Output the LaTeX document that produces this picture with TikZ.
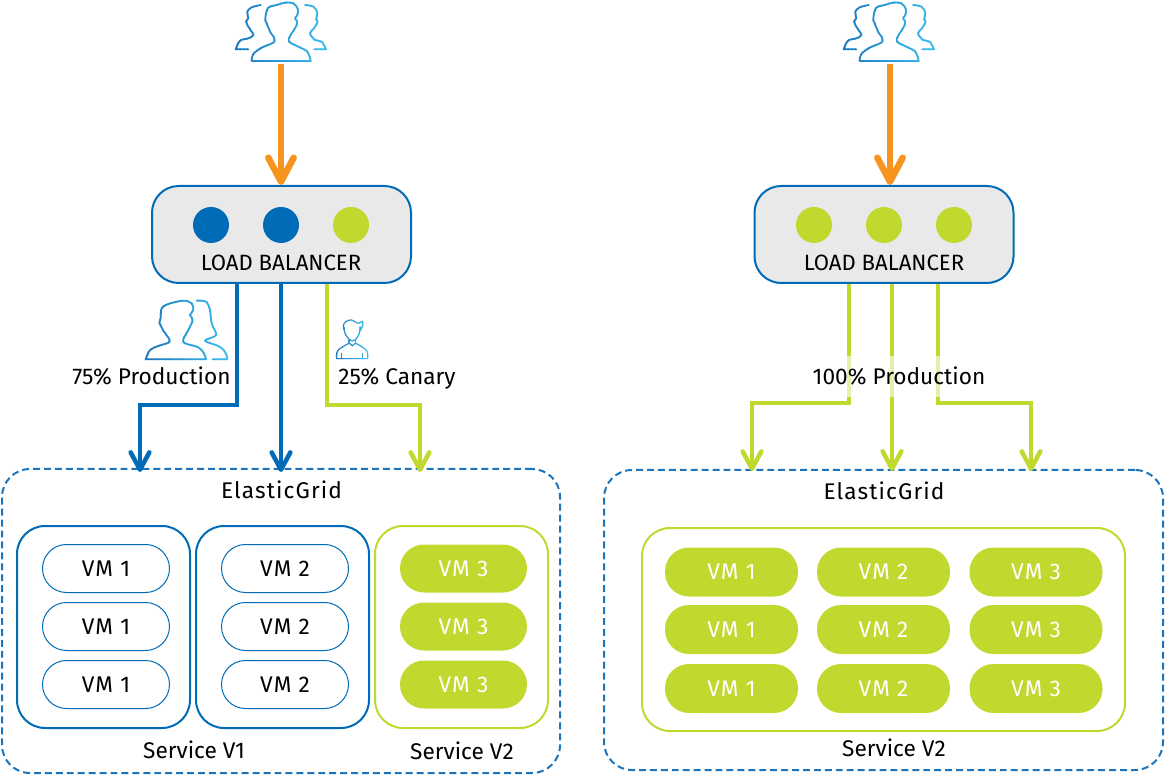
\documentclass[tikz,border=0pt]{standalone}
\usepackage{fontspec}
\setmainfont{Fira Sans}
\usetikzlibrary{arrows.meta}
\definecolor{cblue}{HTML}{006BB6}
\definecolor{cgreen}{HTML}{C1D82F}
\definecolor{corange}{HTML}{F7941E}
\definecolor{cdash}{HTML}{1C75BC}
\definecolor{cgrey}{HTML}{E9E9E9}
\definecolor{gradA}{HTML}{1B75BC}
\definecolor{gradB}{HTML}{3CC0F0}
\def\px{0.75pt}
\pgfdeclarearrow{
  name = Chev,
  setup code = {
    \pgfarrowssettipend{0.5\pgfarrowlinewidth}
    \pgfarrowssetlineend{-\pgfarrowlinewidth}
    \pgfarrowssetvisualbackend{-\pgfarrowlength}
    \pgfarrowssetbackend{-\pgfarrowlength}
    \pgfarrowshullpoint{0.5\pgfarrowlinewidth}{0pt}
    \pgfarrowshullpoint{-\pgfarrowlength}{\pgfarrowwidth}
    \pgfarrowshullpoint{-\pgfarrowlength}{-\pgfarrowwidth}
    \pgfarrowssavethe\pgfarrowlength
    \pgfarrowssavethe\pgfarrowwidth
    \pgfarrowssavethe\pgfarrowlinewidth
  },
  drawing code = {
    \pgfsetlinewidth{\pgfarrowlinewidth}
    \pgfsetdash{}{0pt}
    \pgfsetroundcap
    \pgfsetroundjoin
    \pgfpathmoveto{\pgfqpoint{-\pgfarrowlength}{0.5\pgfarrowwidth}}
    \pgfpathlineto{\pgfqpoint{0pt}{0pt}}
    \pgfpathlineto{\pgfqpoint{-\pgfarrowlength}{-0.5\pgfarrowwidth}}
    \pgfusepathqstroke
  },
  parameters = {\the\pgfarrowlength,\the\pgfarrowwidth,\the\pgfarrowlinewidth},
  defaults = {length=12pt,width=12pt}
}
\tikzset{
  lbl/.style={inner sep=0pt,font=\fontsize{17}{19}\selectfont,text=black,text height=11.4pt,text depth=0pt},
  lbcap/.style={lbl,font=\fontsize{16.6}{19}\selectfont},
  spaced/.style={lbl,font=\fontsize{17}{19}\selectfont\addfontfeatures{LetterSpace=5}},
  grid/.style={draw=cdash,line width=1.5pt,dash pattern=on 5.2pt off 3pt,rounded corners=21pt,inner sep=0pt},
  lbbox/.style={draw=cblue,fill=cgrey,line width=1.5pt,rounded corners=20pt,inner sep=0pt,minimum width=259*\px,minimum height=97*\px},
  svcblue/.style={draw=cblue,line width=1.5pt,rounded corners=21pt,inner sep=0pt,minimum width=173*\px,minimum height=202*\px},
  svcgreen/.style={draw=cgreen,line width=1.5pt,rounded corners=21pt,inner sep=0pt},
  vmo/.style={draw=cblue,line width=0.75pt,fill=white,rounded corners=18pt,inner sep=0pt,minimum width=127*\px,minimum height=48*\px,spaced},
  vmg/.style={fill=cgreen,rounded corners=18pt,inner sep=0pt,minimum width=127*\px,minimum height=48*\px,spaced,text=white},
  vmw/.style={fill=cgreen,rounded corners=18pt,inner sep=0pt,minimum width=133*\px,minimum height=49*\px,spaced,text=white},
  dotb/.style={circle,fill=cblue,minimum size=36*\px,inner sep=0pt},
  dotg/.style={circle,fill=cgreen,minimum size=36*\px,inner sep=0pt},
  slot/.style={inner sep=0pt,minimum width=90*\px,minimum height=60*\px},
  flowb/.style={draw=cblue,line width=3.4pt,-{Chev[length=13pt,width=14pt,line width=3.4pt]}},
  flowg/.style={draw=cgreen,line width=3.2pt,-{Chev[length=13pt,width=14pt,line width=3.4pt]}},
  flowo/.style={draw=corange,line width=4.9pt,-{Chev[length=18pt,width=19pt,line width=4.9pt]}},
  ico/.style={line width=1.35pt,line join=round,line cap=round},
  icothin/.style={line width=0.85pt,line join=round,line cap=round},
}
% strokes drawn through narrow vertical strips, each in its own colour
\newcommand\gradstroke[5]{%
  \foreach \i in {0,...,29}{%
    \pgfmathsetmacro\pp{100*\i/29}%
    \pgfmathsetmacro\xa{#1+(#2-#1)*\i/30}%
    \pgfmathsetmacro\xb{#1+(#2-#1)*(\i+1.3)/30}%
    \begin{scope}[color=gradB!\pp!gradA]
      \clip (\xa,#3) rectangle (\xb,#4);
      #5
    \end{scope}
  }%
}
\newcommand\crowd{%
  \draw[ico] plot[smooth,tension=.55] coordinates {(95,183) (100,162) (125,143) (160,128) (163,115) (150,95) (141,72) (136,62) (138,40) (146,22) (170,15) (195,8) (220,10) (234,28) (232,45) (225,55) (232,66) (225,85) (210,108) (207,125) (235,140) (262,155) (272,183)} -- cycle;
  \draw[ico] plot[smooth,tension=.55] coordinates {(122,15) (95,22) (82,35) (85,55) (78,65) (88,85) (100,105) (85,115) (60,122) (47,148)} -- (85,148);
  \draw[ico] plot[smooth,tension=.55] coordinates {(255,15) (280,20) (292,38) (288,58) (293,65) (282,85) (270,100) (285,120) (305,125) (318,148)} -- (283,148);
}
\newcommand\couple{%
  \draw[ico] plot[smooth,tension=.55] coordinates {(47,208) (60,180) (85,168) (115,158) (118,148) (100,122) (93,108) (88,98) (92,85) (95,55) (115,42) (160,32) (185,40) (190,60) (180,75) (188,90) (175,120) (160,148) (165,160) (205,172) (222,190) (228,208)} -- cycle;
  \draw[ico] plot[smooth,tension=.55] coordinates {(200,32) (228,35) (240,60) (245,100) (258,135) (225,152) (265,168) (285,185) (292,208)} -- (248,208);
}
\newcommand\boy{%
  \draw[icothin] plot[smooth,tension=.6] coordinates {(58,62) (55,48) (62,35) (80,30) (100,40) (113,34) (112,50) (105,62)};
  \draw[icothin] plot[smooth,tension=.6] coordinates {(58,52) (60,70) (75,90) (90,90) (103,70) (105,50)};
  \draw[icothin] (72,90) -- (72,100) (92,90) -- (92,100);
  \draw[icothin] plot[smooth,tension=.5] coordinates {(35,146) (38,122) (72,100) (82,108) (92,100) (125,122) (128,146)} -- cycle;
  \draw[icothin] (50,130) -- (50,146) (113,130) -- (113,146);
}
\begin{document}
\begin{tikzpicture}[x=0.75pt,y=-0.75pt]
\useasboundingbox (0,0) rectangle (1165,777);

% ---------- left ----------
\node[slot] (usersL) at (281,34) {};
\node[lbbox] (lbL) at (281.5,234.5) {};
\node[dotb] (dL1) at (211,225) {};
\node[dotb] (dL2) at (281,225) {};
\node[dotg] (dL3) at (351,225) {};
\node[lbcap] (lbtL) at (281,263) {LOAD BALANCER};

\node[grid,minimum width=558*\px,minimum height=304*\px] (gridL) at (281,621) {};
\node[spaced] (gridtL) at (281.5,491) {ElasticGrid};
\node[svcblue] (sv1a) at (103.5,627) {};
\node[svcblue] (sv1b) at (282.5,627) {};
\node[svcgreen,minimum width=173*\px,minimum height=202*\px] (sv2) at (461.5,627) {};
\foreach \n/\y in {1/568.5,2/626.5,3/684.5}{
  \node[vmo] (a\n) at (106,\y) {VM 1};
  \node[vmo] (b\n) at (285,\y) {VM 2};
  \node[vmg] (c\n) at (463.5,\y) {VM 3};
}
\node[lbl] (sv1t) at (194,751) {Service V1};
\node[lbl] (sv2t) at (462,752) {Service V2};

\node[lbl] (p75) at (151.5,377) {75\% Production};
\node[lbl] (p25) at (397,377) {25\% Canary};

\begin{scope}[shift={(220,0)},x=0.25pt,y=-0.25pt]
  \gradstroke{30}{330}{0}{195}{\crowd}
\end{scope}
\begin{scope}[shift={(130,290)},x=0.25pt,y=-0.25pt]
  \gradstroke{35}{300}{20}{220}{\couple}
\end{scope}
\begin{scope}[shift={(325,310)},x=0.25pt,y=-0.25pt]
  \gradstroke{25}{135}{20}{155}{\boy}
\end{scope}

\coordinate (kL1) at (237,405);
\coordinate (eL1) at (140,472);
\coordinate (kL2) at (281,405);
\coordinate (eL2) at (281,472);
\coordinate (kL3) at (327,405);
\coordinate (eL3) at (420,472);
\draw[flowo] (usersL.south) -- (usersL.south |- lbL.north);
\draw[flowb] (lbL.south -| kL1) -- (kL1) -- (kL1 -| eL1) -- (eL1);
\draw[flowb] (lbL.south -| kL2) -- (eL2);
\draw[flowg] (lbL.south -| kL3) -- (kL3) -- (kL3 -| eL3) -- (eL3);

% ---------- right ----------
\node[slot] (usersR) at (890,34) {};
\node[lbbox] (lbR) at (884,234.5) {};
\node[dotg] (dR1) at (814,225) {};
\node[dotg] (dR2) at (884,225) {};
\node[dotg] (dR3) at (954,225) {};
\node[lbcap] (lbtR) at (884,263) {LOAD BALANCER};

\node[grid,minimum width=559*\px,minimum height=300*\px] (gridR) at (883.5,620) {};
\node[spaced] (gridtR) at (884,492) {ElasticGrid};
\node[svcgreen,minimum width=483*\px,minimum height=203*\px] (svR) at (883.5,629.5) {};
\foreach \n/\y in {1/572,2/629.5,3/688.5}{
  \node[vmw] (d\n) at (731.5,\y) {VM 1};
  \node[vmw] (e\n) at (883.5,\y) {VM 2};
  \node[vmw] (f\n) at (1036,\y) {VM 3};
}
\node[lbl] (svRt) at (894,749) {Service V2};

\begin{scope}[shift={(828,0)},x=0.25pt,y=-0.25pt]
  \gradstroke{30}{330}{0}{195}{\crowd}
\end{scope}

\coordinate (kR1) at (849,403);
\coordinate (eR1) at (752,471);
\coordinate (kR2) at (892,403);
\coordinate (eR2) at (892,471);
\coordinate (kR3) at (938,403);
\coordinate (eR3) at (1031,471);
\draw[flowo] (usersR.south) -- (usersR.south |- lbR.north);
\draw[flowg] (lbR.south -| kR1) -- (kR1) -- (kR1 -| eR1) -- (eR1);
\draw[flowg] (lbR.south -| kR2) -- (eR2);
\draw[flowg] (lbR.south -| kR3) -- (kR3) -- (kR3 -| eR3) -- (eR3);
\node[lbl,fill=white,fill opacity=.6,text opacity=1,minimum width=172*\px,minimum height=41*\px] (p100) at (899,377) {100\% Production};
\end{tikzpicture}
\end{document}
